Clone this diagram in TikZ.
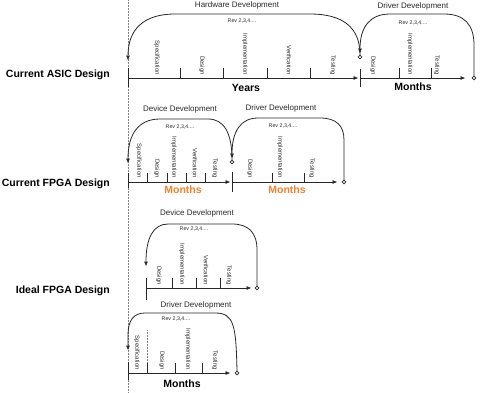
\documentclass[tikz,border=0pt]{standalone}
\usepackage{fontspec}
\setmainfont{Liberation Sans}
\usetikzlibrary{arrows.meta}
\definecolor{ink}{RGB}{40,40,40}
\definecolor{orangeM}{RGB}{240,130,50}
\tikzset{
  axisline/.style={draw=ink, line width=0.8pt},
  axarrow/.style={axisline, -{Triangle[length=4.5pt,width=3.5pt]}},
  tickline/.style={draw=ink, line width=0.8pt},
  loopline/.style={draw=ink, line width=0.8pt, -{Triangle[length=4.5pt,width=3.5pt]}},
  endpt/.style={circle, draw=ink, line width=0.7pt, fill=white, inner sep=0pt, minimum size=3.6pt},
  phase/.style={rotate=-90, anchor=east, inner sep=0pt, font=\fontsize{6}{7}\selectfont, text=ink},
  rowlabel/.style={anchor=east, inner sep=0pt, font=\fontsize{10.5}{12}\selectfont\bfseries},
  unitlabel/.style={inner sep=0pt, font=\fontsize{10.5}{12}\selectfont\bfseries},
  looplabel/.style={inner sep=0pt, font=\fontsize{8}{9}\selectfont, text=ink},
  revlabel/.style={inner sep=0pt, font=\fontsize{5.3}{6}\selectfont, text=ink},
  guide/.style={draw=gray, densely dotted, line width=0.5pt},
}
\begin{document}
\begin{tikzpicture}[x=1pt,y=-1pt]
\useasboundingbox (0,0) rectangle (480,392);
% guide lines
\draw[guide] (128,0) -- (128,392);
\draw[guide] (147,330) -- (147,363);

% ---------------- Current ASIC Design ----------------
\node[rowlabel] (asic) at (110,75) {Current ASIC Design};
\coordinate (a0) at (128,78);
\coordinate (a1) at (358,78);
\coordinate (a2) at (360,78);
\coordinate (a3) at (465,78);
\draw[tickline] (128,68) -- (128,87);
\foreach \x in {180,223,267,310} \draw[tickline] (\x,68) -- (\x,78);
\draw[axarrow] (a0) -- (a1);
\draw[tickline] (360,69) -- (360,87);
\foreach \x in {399,431} \draw[tickline] (\x,68) -- (\x,78);
\draw[axarrow] (a2) -- (a3);
\node[endpt] (ahc) at (360,57) {};
\node[endpt] (adc) at (474,78) {};
\coordinate (aht) at (128,60);
\coordinate (adt) at (360,53);
\draw[loopline] (ahc.north) .. controls (360,27.7) and (343.3,14) .. (310,14) -- (175,14)
  .. controls (143.7,14) and (128,29.3) .. (aht);
\draw[loopline] (adc.north) -- (474,45) .. controls (474,24.3) and (464,14) .. (444,14) -- (390,14)
  .. controls (370,14) and (360,27) .. (adt);
\node[looplabel] (ahl) at (237,5) {Hardware Development};
\node[revlabel] (ahr) at (242,21) {Rev 2,3,4....};
\node[looplabel] (adl) at (413,6) {Driver Development};
\node[revlabel] (adr) at (413,23) {Rev 2,3,4....};
\node[phase] at (157,75) {Specification};
\node[phase] at (202,75) {Design};
\node[phase] at (245,75) {Implementation};
\node[phase] at (289,75) {Verification};
\node[phase] at (333,75) {Testing};
\node[phase] at (373,75) {Design};
\node[phase] at (410,75) {Implementation};
\node[phase] at (437,75) {Testing};
\node[unitlabel] (yrs) at (246,88) {Years};
\node[unitlabel] (mo1) at (413,87) {Months};

% ---------------- Current FPGA Design ----------------
\node[rowlabel] (fpga) at (110,184) {Current FPGA Design};
\coordinate (f0) at (128,182);
\coordinate (f1) at (230,182);
\coordinate (f2) at (232,182);
\coordinate (f3) at (337,182);
\draw[tickline] (128,173) -- (128,188);
\foreach \x in {147,167,186,205} \draw[tickline] (\x,173) -- (\x,182);
\draw[axarrow] (f0) -- (f1);
\draw[tickline] (232,172) -- (232,192);
\foreach \x in {272,304} \draw[tickline] (\x,173) -- (\x,182);
\draw[axarrow] (f2) -- (f3);
\node[endpt] (fdc) at (232,162) {};
\node[endpt] (fvc) at (344,182) {};
\coordinate (fdt) at (128,163);
\coordinate (fvt) at (232,158);
\draw[loopline] (fdc.north) .. controls (232,132.7) and (224,119) .. (208,119) -- (160,119)
  .. controls (138.7,119) and (128,133.7) .. (fdt);
\draw[loopline] (fvc.north) -- (344,140) .. controls (344,125.3) and (336,118) .. (320,118) -- (258,118)
  .. controls (240.7,118) and (232,131.3) .. (fvt);
\node[looplabel] (fdl) at (180,109) {Device Development};
\node[revlabel] (fdr) at (180,127) {Rev 2,3,4....};
\node[looplabel] (fvl) at (281,108) {Driver Development};
\node[revlabel] (fvr) at (283,126) {Rev 2,3,4....};
\node[phase] at (139,178) {Specification};
\node[phase] at (157,178) {Design};
\node[phase] at (174,178) {Implementation};
\node[phase] at (195,178) {Verification};
\node[phase] at (215,178) {Testing};
\node[phase] at (250,178) {Design};
\node[phase] at (280,178) {Implementation};
\node[phase] at (312,178) {Testing};
\node[unitlabel, text=orangeM] (mo2) at (183,190) {Months};
\node[unitlabel, text=orangeM] (mo3) at (287,190) {Months};

% ---------------- Ideal FPGA Design ----------------
\node[rowlabel] (ideal) at (110,291) {Ideal FPGA Design};
\coordinate (i0) at (146,288);
\coordinate (i1) at (251,288);
\draw[tickline] (146,278) -- (146,300);
\foreach \x in {172,196,220} \draw[tickline] (\x,278) -- (\x,288);
\draw[axarrow] (i0) -- (i1);
\node[endpt] (idc) at (257,288) {};
\coordinate (idt) at (146,266);
\draw[loopline] (idc.north) -- (257,250) .. controls (257,232.7) and (248.7,224) .. (232,224) -- (168,224)
  .. controls (153.3,224) and (146,238) .. (idt);
\node[looplabel] (idl) at (197,213) {Device Development};
\node[revlabel] (idr) at (194,229) {Rev 2,3,4....};
\node[phase] at (159,285) {Design};
\node[phase] at (182,285) {Implementation};
\node[phase] at (206,285) {Verification};
\node[phase] at (229,285) {Testing};

\coordinate (j0) at (128,373);
\coordinate (j1) at (230,373);
\draw[tickline] (128,362) -- (128,380);
\foreach \x in {147,175,202} \draw[tickline] (\x,363) -- (\x,373);
\draw[axarrow] (j0) -- (j1);
\node[endpt] (ivc) at (237,373) {};
\coordinate (ivt) at (128,350);
\draw[loopline] (ivc.north) .. controls (236,325) and (234,313) .. (215,313) -- (145,313)
  .. controls (133.7,313) and (128,320.3) .. (128,335) -- (ivt);
\node[looplabel] (ivl) at (196,305) {Driver Development};
\node[revlabel] (ivr) at (176,319) {Rev 2,3,4....};
\node[phase] at (137,370) {Specification};
\node[phase] at (162,370) {Design};
\node[phase] at (188,370) {Implementation};
\node[phase] at (215,370) {Testing};
\node[unitlabel] (mo4) at (182,384) {Months};
\end{tikzpicture}
\end{document}
